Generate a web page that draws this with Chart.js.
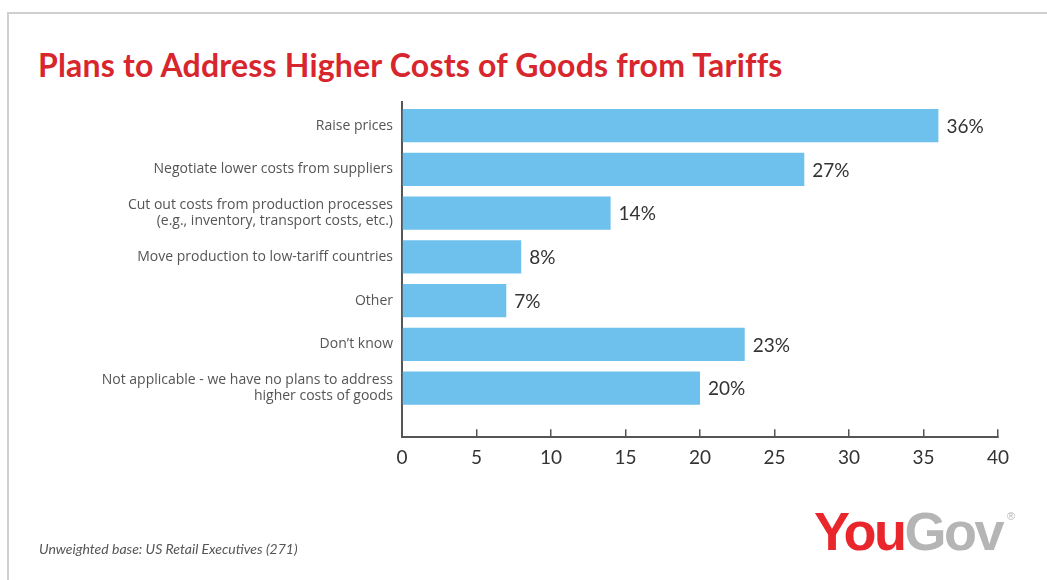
<!DOCTYPE html>
<html lang="en">
<head>
  <meta charset="UTF-8">
  <title>Plans to Address Higher Costs of Goods from Tariffs</title>
  <script src="https://cdn.jsdelivr.net/npm/chart.js"></script>
  <style>
    html, body { margin: 0; padding: 0; background: #fff; }
    #wrap { position: relative; width: 1047px; height: 580px; overflow: hidden; font-family: Lato, "Open Sans", sans-serif; }
    #frame { position: absolute; left: 7px; top: 12px; right: -2px; bottom: -2px; border-top: 2px solid #cfcfcf; border-left: 2px solid #cfcfcf; }
    #title { position: absolute; left: 38px; top: 45px; margin: 0; font-size: 32px; font-weight: bold; color: #d8262e; white-space: nowrap; letter-spacing: 0.2px; }
    #note { position: absolute; left: 39px; top: 540px; font-size: 14px; font-style: italic; color: #555; }
    #logo { position: absolute; left: 814px; top: 500px; font-family: "Liberation Sans Narrow", "Liberation Sans", Arial, sans-serif; font-weight: bold; font-size: 54px; letter-spacing: -2.5px; white-space: nowrap; }
    #logo .you { color: #e8262c; }
    #logo .gov { color: #b5b5b5; }
    #logo sup { font-size: 11px; color: #b5b5b5; vertical-align: 30px; margin-left: 5px; font-weight: normal; }
    #chart { position: absolute; left: 0; top: 0; }
  </style>
</head>
<body>
  <div id="wrap">
    <div id="frame"></div>
    <h1 id="title">Plans to Address Higher Costs of Goods from Tariffs</h1>
    <canvas id="chart" width="1047" height="580"></canvas>
    <div id="note">Unweighted base: US Retail Executives (271)</div>
    <div id="logo"><span class="you">You</span><span class="gov">Gov</span><sup>®</sup></div>
  </div>
  <script>
    const categories = [
      "Raise prices",
      "Negotiate lower costs from suppliers",
      ["Cut out costs from production processes", "(e.g., inventory, transport costs, etc.)"],
      "Move production to low-tariff countries",
      "Other",
      "Don\u2019t know",
      ["Not applicable - we have no plans to address", "higher costs of goods"]
    ];
    const shares = [36, 27, 14, 8, 7, 23, 20];
    const xTicks = [0, 5, 10, 15, 20, 25, 30, 35, 40];

    const barLabels = {
      id: 'barLabels',
      afterDatasetsDraw(chart) {
        const ctx = chart.ctx;
        const meta = chart.getDatasetMeta(0);
        ctx.save();
        ctx.font = '19px Lato, "Open Sans", sans-serif';
        ctx.fillStyle = '#333';
        ctx.textBaseline = 'middle';
        meta.data.forEach((bar, i) => {
          ctx.fillText(shares[i] + '%', bar.x + 8, bar.y + 1);
        });
        ctx.restore();
      }
    };

    new Chart(document.getElementById('chart'), {
      type: 'bar',
      data: {
        labels: categories,
        datasets: [{
          data: shares,
          backgroundColor: '#6dc1ec',
          barPercentage: 0.76,
          categoryPercentage: 1
        }]
      },
      options: {
        indexAxis: 'y',
        responsive: false,
        animation: false,
        layout: { padding: { top: 102, right: 49, bottom: 94, left: 0 } },
        plugins: { legend: { display: false }, tooltip: { enabled: false } },
        scales: {
          x: {
            min: 0, max: 40,
            afterBuildTicks: s => { s.ticks = xTicks.map(v => ({ value: v })); },
            border: { color: '#555', width: 2 },
            grid: { drawOnChartArea: false, color: '#555', lineWidth: 1.5, tickLength: -8 },
            ticks: { color: '#333', padding: 17, font: { family: 'Lato', size: 19 } }
          },
          y: {
            afterFit: s => { s.width = 402; },
            afterBuildTicks: s => { s._startValue = -0.54; s._valueRange = 7.66; },
            border: { color: '#555', width: 2 },
            grid: { display: false, drawTicks: false },
            ticks: { color: '#555', padding: 9, font: { family: '"Open Sans"', size: 14, lineHeight: 1.15 } }
          }
        }
      },
      plugins: [barLabels]
    });
  </script>
</body>
</html>
